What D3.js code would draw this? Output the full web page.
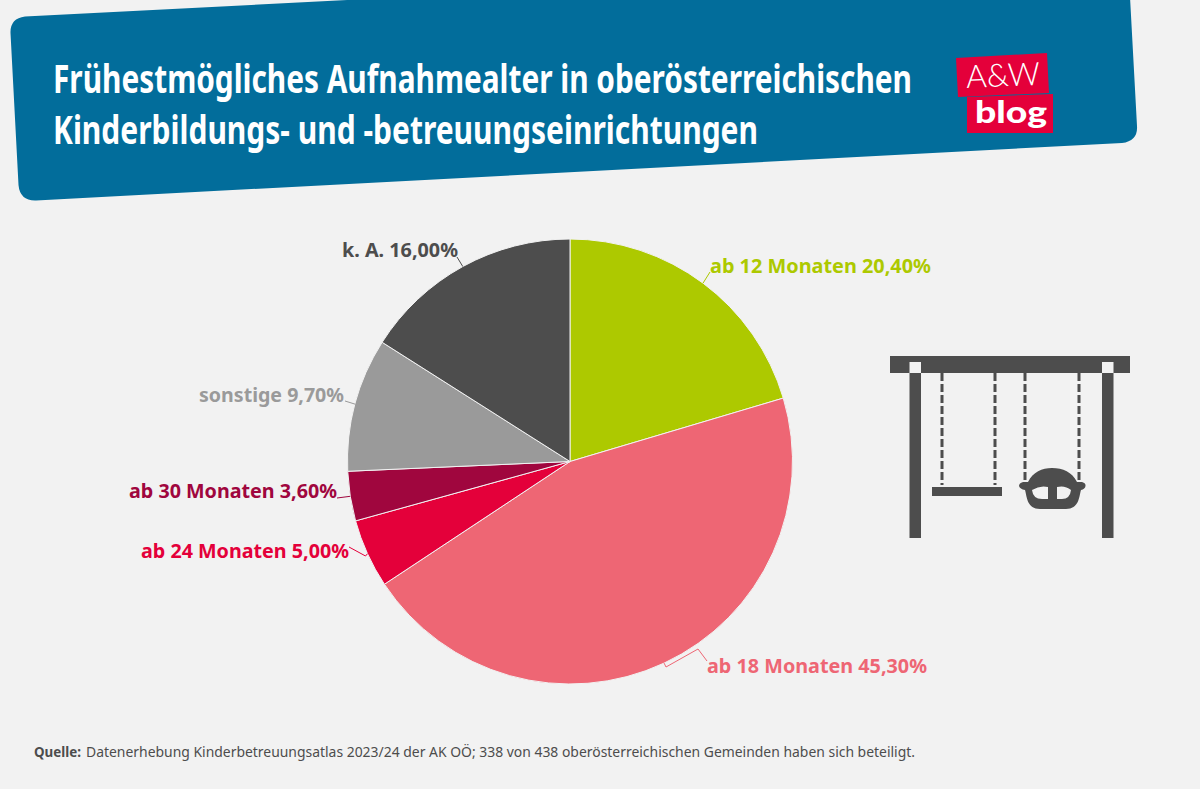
<!DOCTYPE html>
<html>
<head>
<meta charset="utf-8">
<script src="https://cdn.jsdelivr.net/npm/d3@7"></script>
<style>
  html, body { margin: 0; padding: 0; background: #f2f2f2; }
  svg { display: block; }
  text { font-family: "Noto Sans", sans-serif; }
</style>
</head>
<body>
<div id="dataviz"></div>
<script>
// chart data, clockwise from 12 o'clock
const categories = ["ab 12 Monaten", "ab 18 Monaten", "ab 24 Monaten", "ab 30 Monaten", "sonstige", "k. A."];
const values = [20.4, 45.3, 5.0, 3.6, 9.7, 16.0];
const sliceColors = ["#adc900", "#ee6674", "#e4003a", "#a0063e", "#9a9a9a", "#4d4d4d"];
const titleLines = ["Frühestmögliches Aufnahmealter in oberösterreichischen", "Kinderbildungs- und -betreuungseinrichtungen"];
const sourceLabel = "Quelle:";
const sourceText = "Datenerhebung Kinderbetreuungsatlas 2023/24 der AK OÖ; 338 von 438 oberösterreichischen Gemeinden haben sich beteiligt.";

const width = 1200, height = 789;
const cx = 570, cy = 461.5, radius = 222.5;

const svg = d3.select("#dataviz").append("svg")
    .attr("width", width)
    .attr("height", height);

svg.append("rect").attr("width", width).attr("height", height).attr("fill", "#f2f2f2");

// tilted header banner
svg.append("path")
    .attr("fill", "#026d9b")
    .attr("d", "M10.5 33 Q10 18.5 25 16.5 L1128 -40 L1137 126 Q1138 141 1122 143 L36 200.5 Q20 201 18.5 185 Z");

const titleWidths = [859, 705];
svg.selectAll(".title")
    .data(titleLines)
    .enter().append("text")
    .attr("class", "title")
    .attr("x", 53)
    .attr("y", (d, i) => 93 + i * 51)
    .attr("fill", "#fff")
    .attr("textLength", (d, i) => titleWidths[i])
    .attr("lengthAdjust", "spacingAndGlyphs")
    .style("font-family", "'Liberation Sans Narrow', 'Noto Sans', sans-serif")
    .style("font-weight", 700)
    .style("font-size", "39px")
    .text(d => d);

// logo
const logo = svg.append("g");
logo.append("path").attr("fill", "#e4003a").attr("d", "M956 58 L1047 53 L1049 93 L958 97 Z");
logo.append("path").attr("fill", "#e4003a").attr("d", "M967 97 L1053 94 L1053 133 L967 133 Z");
logo.append("text")
    .attr("transform", "translate(966.5,88) rotate(-2.5)")
    .attr("textLength", 74)
    .attr("lengthAdjust", "spacingAndGlyphs")
    .attr("fill", "#fff")
    .style("font-family", "Lato, sans-serif")
    .style("font-weight", 300)
    .style("font-size", "32px")
    .text("A&W");
logo.append("text")
    .attr("x", 975)
    .attr("y", 123)
    .attr("textLength", 72)
    .attr("lengthAdjust", "spacingAndGlyphs")
    .attr("fill", "#fff")
    .style("font-family", "Lato, sans-serif")
    .style("font-weight", 900)
    .style("font-size", "30px")
    .text("blog");

// pie
const pie = d3.pie().sort(null).value(d => d)(values);
const arc = d3.arc().innerRadius(0).outerRadius(radius);
const chart = svg.append("g").attr("transform", `translate(${cx},${cy})`);

chart.selectAll("path")
    .data(pie)
    .enter().append("path")
    .attr("d", arc)
    .attr("fill", (d, i) => sliceColors[i])
    .attr("stroke", "#f2f2f2")
    .attr("stroke-width", 1);

// label placement: text box x/width, baseline, leader bends (page coords)
const labelX = [710, 707, 141, 129, 199, 342];
const labelW = [221, 220, 208, 208, 145, 116];
const labelY = [273, 673, 558, 498, 402, 257];
const leaderBends = [
  [[710, 272]],
  [[666, 667], [698, 649], [707, 661]],
  [[365.5, 556], [349, 547]],
  [[337, 498]],
  [[345, 401]],
  [[457, 257]]
];
const line = d3.line();
const midPoint = d => {
  const a = (d.startAngle + d.endAngle) / 2;
  return [cx + radius * Math.sin(a), cy - radius * Math.cos(a)];
};

svg.selectAll(".leader")
    .data(pie)
    .enter().append("path")
    .attr("class", "leader")
    .attr("fill", "none")
    .attr("stroke", (d, i) => sliceColors[i])
    .attr("stroke-width", 1)
    .attr("d", (d, i) => line([midPoint(d), ...leaderBends[i]]));

const fmt = v => v.toFixed(2).replace(".", ",") + "%";
svg.selectAll(".label")
    .data(pie)
    .enter().append("text")
    .attr("class", "label")
    .attr("x", (d, i) => labelX[i])
    .attr("y", (d, i) => labelY[i])
    .attr("textLength", (d, i) => labelW[i])
    .attr("lengthAdjust", "spacingAndGlyphs")
    .attr("fill", (d, i) => sliceColors[i])
    .style("font-weight", 700)
    .style("font-size", "20px")
    .text((d, i) => `${categories[i]} ${fmt(values[i])}`);

// swing icon
const icon = svg.append("g").attr("fill", "#4d4d4d");
icon.append("rect").attr("x", 890).attr("y", 356).attr("width", 240).attr("height", 17);
[909.5, 1102].forEach(x => {
  icon.append("rect").attr("x", x).attr("y", 373).attr("width", 11.5).attr("height", 165);
  icon.append("rect").attr("x", x).attr("y", 362).attr("width", 11.5).attr("height", 11).attr("fill", "#f2f2f2");
});
[942, 995, 1025, 1079].forEach(x => {
  icon.append("line")
      .attr("x1", x).attr("x2", x).attr("y1", 373).attr("y2", 485)
      .attr("stroke", "#4d4d4d").attr("stroke-width", 3).attr("stroke-dasharray", "8 3");
});
icon.append("rect").attr("x", 932).attr("y", 487).attr("width", 70).attr("height", 9);
icon.append("path")
    .attr("fill-rule", "evenodd")
    .attr("d", "M1028 482 C1033 472 1042 468 1052 468 C1063 468 1072 472 1077 482 L1082 482 Q1086 483 1085.5 486 Q1085 489 1081 490 C1079 497 1079 509 1066 509 L1040 509 C1027 509 1027 497 1025 490 Q1020 489 1019 486 Q1019 483 1023 482 Z"
      + " M1032 490 Q1040 485 1048 487 L1048 499 L1042 499 Q1033 499 1032 490 Z"
      + " M1057 487 Q1065 485 1071 490 Q1070 499 1062 499 L1057 499 Z");

// source line
svg.append("text")
    .attr("x", 34).attr("y", 757)
    .attr("textLength", 47).attr("lengthAdjust", "spacingAndGlyphs")
    .attr("fill", "#4d4d4d")
    .style("font-weight", 700).style("font-size", "14.5px")
    .text(sourceLabel);
svg.append("text")
    .attr("x", 86).attr("y", 757)
    .attr("textLength", 829).attr("lengthAdjust", "spacingAndGlyphs")
    .attr("fill", "#4d4d4d")
    .style("font-size", "14.5px")
    .text(sourceText);
</script>
</body>
</html>
